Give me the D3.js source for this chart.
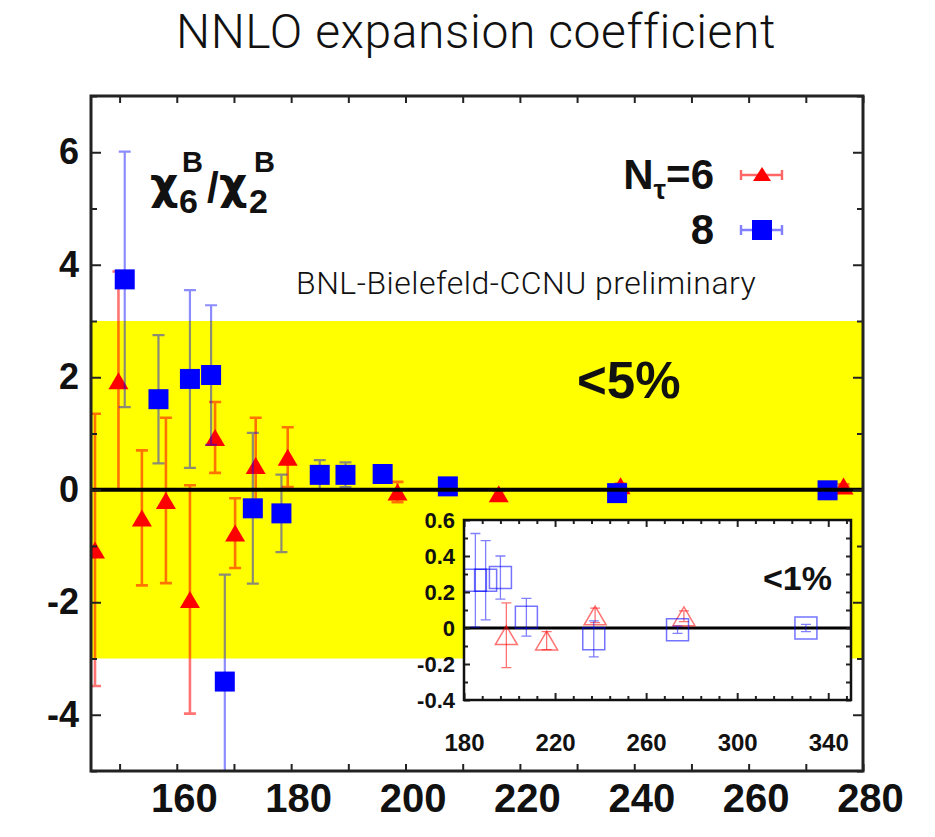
<!DOCTYPE html>
<html>
<head>
<meta charset="utf-8">
<script src="https://cdn.jsdelivr.net/npm/d3@7"></script>
<style>
  html, body { margin: 0; padding: 0; background: #fff; }
  svg { display: block; }
  .num { font-family: "Liberation Sans", Arial, sans-serif; font-weight: bold; fill: #111; }
  .greek { font-family: "DejaVu Sans", sans-serif; font-weight: bold; fill: #111; }
</style>
</head>
<body>
<svg id="chart" width="935" height="837"></svg>
<script>
// Lattice temperature T (MeV), ratio chi6/chi2 and its error, N_tau = 6
const tempNt6  = [145.7, 149.8, 153.9, 158.1, 162.3, 166.7, 170.2, 173.8, 179.4, 198.6, 216.3, 237.6, 276.6];
const ratioNt6 = [-1.07, 1.94, -0.50, -0.19, -1.95, 0.93, -0.77, 0.43, 0.58, -0.04, -0.07, 0.07, 0.065];
const errNt6   = [2.42, 1.94, 1.20, 1.47, 2.03, 0.63, 0.62, 0.85, 0.53, 0.18, 0.05, 0.04, 0.03];

// Same quantity for N_tau = 8
const tempNt8  = [150.9, 156.8, 162.3, 166.0, 168.4, 173.3, 178.3, 185.0, 189.5, 196.0, 207.4, 237.0, 273.8, 330.2];
const ratioNt8 = [3.74, 1.61, 1.97, 2.04, -3.41, -0.33, -0.42, 0.265, 0.265, 0.28, 0.06, -0.06, -0.01, 0.0];
const errNt8   = [2.27, 1.14, 1.58, 1.24, 1.90, 1.34, 0.69, 0.26, 0.22, 0.12, 0.105, 0.10, 0.02, 0.02];

const seriesLabels = ["6", "8"];
const mainXTicks  = [160, 180, 200, 220, 240, 260, 280];
const mainYTicks  = [-4, -2, 0, 2, 4, 6];
const insetXTicks = [180, 220, 260, 300, 340];
const insetYTicks = [-0.4, -0.2, 0, 0.2, 0.4, 0.6];
const band5 = [-3, 3];   // "<5%" band
const insetFrom = 180;   // inset shows T >= 180

const nt6 = tempNt6.map((t, i) => ({ t, v: ratioNt6[i], e: errNt6[i] }));
const nt8 = tempNt8.map((t, i) => ({ t, v: ratioNt8[i], e: errNt8[i] }));

const RED = "#ff0000", BLUE = "#0000ff";
const svg = d3.select("#chart");

// ---------- title ----------
svg.append("text")
  .attr("x", 476).attr("y", 48)
  .attr("text-anchor", "middle")
  .style("font-family", "Roboto, 'Open Sans', sans-serif")
  .style("font-weight", 300)
  .style("font-size", "48px")
  .style("letter-spacing", "0.6px")
  .style("fill", "#111")
  .text("NNLO expansion coefficient");

// ---------- main panel ----------
const F = { l: 91, r: 863, t: 96, b: 771 };
const x = d3.scaleLinear().domain([145, 280]).range([F.l, F.r]);
const y = d3.scaleLinear().domain([-5, 7]).range([F.b, F.t]);

const defs = svg.append("defs");
defs.append("clipPath").attr("id", "clipMain").append("rect")
  .attr("x", F.l).attr("y", F.t).attr("width", F.r - F.l).attr("height", F.b - F.t);

svg.append("rect")
  .attr("x", F.l).attr("width", F.r - F.l)
  .attr("y", y(band5[1])).attr("height", y(band5[0]) - y(band5[1]))
  .attr("fill", "#ffff00");

function errPath(px, py0, py1, cap) {
  return `M${px - cap},${py1}H${px + cap}M${px},${py1}V${py0}M${px - cap},${py0}H${px + cap}`;
}
function triPath(px, py, w, h) {
  return `M${px},${py - h / 2}L${px + w / 2},${py + h / 2}L${px - w / 2},${py + h / 2}Z`;
}

const plot = svg.append("g").attr("clip-path", "url(#clipMain)");

function drawSeries(g, data, sx, sy, opts) {
  g.append("g").selectAll("path").data(data).join("path")
    .attr("d", d => errPath(sx(d.t), sy(d.v - d.e), sy(d.v + d.e), opts.cap))
    .attr("fill", "none")
    .attr("stroke", opts.color)
    .attr("stroke-opacity", opts.barOpacity)
    .attr("stroke-width", opts.barWidth);
  const m = g.append("g").selectAll("path").data(data).join("path");
  if (opts.shape === "tri") {
    m.attr("d", d => triPath(sx(d.t), sy(d.v), opts.size, opts.size * 0.85));
  } else {
    m.attr("d", d => {
      const s = opts.size / 2, cx = sx(d.t), cy = sy(d.v);
      return `M${cx - s},${cy - s}H${cx + s}V${cy + s}H${cx - s}Z`;
    });
  }
  if (opts.open) {
    m.attr("fill", "none").attr("stroke", opts.color)
     .attr("stroke-opacity", opts.markOpacity).attr("stroke-width", 1.5);
  } else {
    m.attr("fill", opts.color);
  }
}

drawSeries(plot, nt6, x, y, { color: RED, cap: 6, barOpacity: 0.55, barWidth: 2.6, shape: "tri", size: 20 });
drawSeries(plot, nt8, x, y, { color: BLUE, cap: 6, barOpacity: 0.45, barWidth: 2.2, shape: "sq", size: 20 });

plot.append("line")
  .attr("x1", F.l).attr("x2", F.r).attr("y1", y(0)).attr("y2", y(0))
  .attr("stroke", "#000").attr("stroke-width", 4);

// axes of the main panel (ticks point inward)
function styleAxis(g, fontSize) {
  g.select(".domain").remove();
  g.selectAll(".tick line").attr("stroke", "#222").attr("stroke-width", 2);
  g.selectAll(".tick text").attr("class", "num").style("font-size", fontSize + "px");
}
const yMinor = d3.range(-5, 8).filter(v => !mainYTicks.includes(v));
const xAll = d3.range(150, 281, 10);

svg.append("g").attr("transform", `translate(${F.l},0)`)
  .call(d3.axisLeft(y).tickValues(mainYTicks).tickSizeInner(-10).tickSizeOuter(0)
    .tickPadding(12).tickFormat(d => String(d)))
  .call(g => styleAxis(g, 36));
svg.append("g").attr("transform", `translate(${F.l},0)`)
  .call(d3.axisLeft(y).tickValues(yMinor).tickSizeInner(-6).tickSizeOuter(0).tickFormat(""))
  .call(g => styleAxis(g, 36));
svg.append("g").attr("transform", `translate(${F.r},0)`)
  .call(d3.axisRight(y).tickValues(mainYTicks).tickSizeInner(-10).tickSizeOuter(0).tickFormat(""))
  .call(g => styleAxis(g, 36));
svg.append("g").attr("transform", `translate(${F.r},0)`)
  .call(d3.axisRight(y).tickValues(yMinor).tickSizeInner(-6).tickSizeOuter(0).tickFormat(""))
  .call(g => styleAxis(g, 36));
svg.append("g").attr("transform", `translate(0,${F.t})`)
  .call(d3.axisTop(x).tickValues(xAll).tickSizeInner(-7).tickSizeOuter(0).tickFormat(""))
  .call(g => styleAxis(g, 36));
svg.append("g").attr("transform", `translate(0,${F.b})`)
  .call(d3.axisBottom(x).tickValues(xAll).tickSizeInner(-7).tickSizeOuter(0).tickFormat(""))
  .call(g => styleAxis(g, 36));
svg.append("g").attr("transform", `translate(0,${F.b})`)
  .call(d3.axisBottom(x).tickValues(mainXTicks).tickSizeInner(0).tickSizeOuter(0)
    .tickPadding(13).tickFormat(d => String(d)))
  .call(g => styleAxis(g, 40))
  .call(g => g.selectAll(".tick text").attr("dx", 7));

// ---------- inset (T >= 180, finer scale) ----------
const I = { l: 464, r: 851, t: 520, b: 700 };
const ix = d3.scaleLinear().domain([180, 350]).range([I.l, I.r]);
const iy = d3.scaleLinear().domain([-0.4, 0.6]).range([I.b, I.t]);
defs.append("clipPath").attr("id", "clipInset").append("rect")
  .attr("x", I.l).attr("y", I.t).attr("width", I.r - I.l).attr("height", I.b - I.t);

svg.append("rect").attr("x", I.l).attr("y", I.t)
  .attr("width", I.r - I.l).attr("height", I.b - I.t).attr("fill", "#fff");

const iplot = svg.append("g").attr("clip-path", "url(#clipInset)");
iplot.append("line")
  .attr("x1", I.l).attr("x2", I.r).attr("y1", iy(0)).attr("y2", iy(0))
  .attr("stroke", "#000").attr("stroke-width", 3);
drawSeries(iplot, nt6.filter(d => d.t >= insetFrom), ix, iy,
  { color: RED, cap: 5, barOpacity: 0.55, barWidth: 1.3, shape: "tri", size: 22, open: true, markOpacity: 0.55 });
drawSeries(iplot, nt8.filter(d => d.t >= insetFrom), ix, iy,
  { color: BLUE, cap: 5, barOpacity: 0.5, barWidth: 1.3, shape: "sq", size: 22, open: true, markOpacity: 0.55 });

const ixMinor = d3.range(180, 351, 8).filter(v => !insetXTicks.includes(v));
const iyMinor = [-0.3, -0.1, 0.1, 0.3, 0.5];
svg.append("g").attr("transform", `translate(${I.l},0)`)
  .call(d3.axisLeft(iy).tickValues(insetYTicks).tickSizeInner(-6).tickSizeOuter(0)
    .tickPadding(9).tickFormat(d => d === 0 ? "0" : d.toFixed(1)))
  .call(g => styleAxis(g, 22));
svg.append("g").attr("transform", `translate(${I.l},0)`)
  .call(d3.axisLeft(iy).tickValues(iyMinor).tickSizeInner(-4).tickSizeOuter(0).tickFormat(""))
  .call(g => styleAxis(g, 22));
svg.append("g").attr("transform", `translate(${I.r},0)`)
  .call(d3.axisRight(iy).tickValues(insetYTicks.concat(iyMinor)).tickSizeInner(-5).tickSizeOuter(0).tickFormat(""))
  .call(g => styleAxis(g, 22));
svg.append("g").attr("transform", `translate(0,${I.t})`)
  .call(d3.axisTop(ix).tickValues(insetXTicks).tickSizeInner(-7).tickSizeOuter(0).tickFormat(""))
  .call(g => styleAxis(g, 22));
svg.append("g").attr("transform", `translate(0,${I.t})`)
  .call(d3.axisTop(ix).tickValues(ixMinor).tickSizeInner(-4).tickSizeOuter(0).tickFormat(""))
  .call(g => styleAxis(g, 22));
svg.append("g").attr("transform", `translate(0,${I.b})`)
  .call(d3.axisBottom(ix).tickValues(insetXTicks).tickSizeInner(-7).tickSizeOuter(0)
    .tickPadding(34).tickFormat(d => String(d)))
  .call(g => styleAxis(g, 24));
svg.append("g").attr("transform", `translate(0,${I.b})`)
  .call(d3.axisBottom(ix).tickValues(ixMinor).tickSizeInner(-4).tickSizeOuter(0).tickFormat(""))
  .call(g => styleAxis(g, 22));

svg.append("rect").attr("x", I.l).attr("y", I.t)
  .attr("width", I.r - I.l).attr("height", I.b - I.t)
  .attr("fill", "none").attr("stroke", "#111").attr("stroke-width", 2.5);

svg.append("text").attr("class", "num")
  .attr("x", 832).attr("y", 590).attr("text-anchor", "end")
  .style("font-size", "34px").text("<1%");

// main frame
svg.append("rect").attr("x", F.l).attr("y", F.t)
  .attr("width", F.r - F.l).attr("height", F.b - F.t)
  .attr("fill", "none").attr("stroke", "#222").attr("stroke-width", 3);

// ---------- labels inside the main panel ----------
const lab = svg.append("g");
function put(txt, px, py, size, cls) {
  lab.append("text").attr("class", cls || "num")
    .attr("x", px).attr("y", py).style("font-size", size + "px").text(txt);
}
put("\u03c7", 150, 199, 44, "greek");
put("6", 179, 213, 34);
put("B", 182, 172, 29);
put("/", 207, 202, 42);
put("\u03c7", 219, 199, 44, "greek");
put("2", 249, 213, 34);
put("B", 254, 172, 29);

svg.append("text").attr("class", "num")
  .attr("x", 577).attr("y", 398).style("font-size", "51px").text("<5%");

svg.append("text")
  .attr("x", 296).attr("y", 294)
  .style("font-family", "Roboto, 'Open Sans', sans-serif")
  .style("font-weight", 300).style("font-size", "32px")
  .style("letter-spacing", "0.5px").style("fill", "#111")
  .text("BNL-Bielefeld-CCNU preliminary");

// ---------- legend ----------
const leg = svg.append("g");
const legRows = [
  { y: 175, color: RED, shape: "tri", label: seriesLabels[0], prefix: true },
  { y: 230, color: BLUE, shape: "sq", label: seriesLabels[1], prefix: false }
];
legRows.forEach(r => {
  const t = leg.append("text").attr("class", "num")
    .attr("x", 714).attr("y", r.y + 14).attr("text-anchor", "end")
    .style("font-size", "42px");
  if (r.prefix) {
    t.append("tspan").text("N");
    t.append("tspan").attr("dy", 10).style("font-size", "28px").text("\u03c4");
    t.append("tspan").attr("dy", -10).text("=" + r.label);
  } else {
    t.text(r.label);
  }
  leg.append("path")
    .attr("d", `M741,${r.y}H782M741,${r.y - 5}V${r.y + 5}M782,${r.y - 5}V${r.y + 5}`)
    .attr("fill", "none").attr("stroke", r.color)
    .attr("stroke-opacity", r.shape === "tri" ? 0.6 : 0.5).attr("stroke-width", 2.4);
  if (r.shape === "tri") {
    leg.append("path").attr("d", triPath(762, r.y - 1, 18, 14)).attr("fill", r.color);
  } else {
    leg.append("rect").attr("x", 752).attr("y", r.y - 10)
      .attr("width", 20).attr("height", 20).attr("fill", r.color);
  }
});
</script>
</body>
</html>
